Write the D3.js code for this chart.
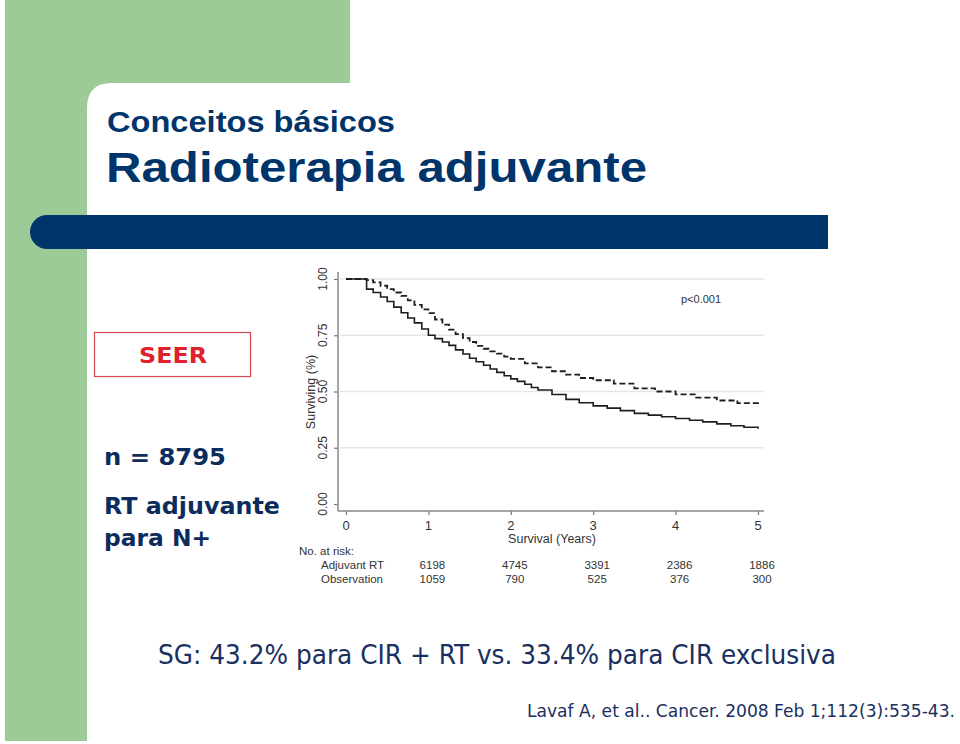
<!DOCTYPE html>
<html>
<head>
<meta charset="utf-8">
<script src="https://cdn.jsdelivr.net/npm/d3@7/dist/d3.min.js"></script>
<style>
  html, body { margin: 0; padding: 0; background: #ffffff; }
  svg { display: block; }
</style>
</head>
<body>
<div id="chart"></div>
<script>
// ---------- data ----------
const timesRT  = [0, 0.25, 0.33, 0.42, 0.5, 0.58, 0.67, 0.75, 0.83, 0.92, 1.0, 1.08, 1.17, 1.25, 1.33, 1.42, 1.5, 1.58, 1.67, 1.75, 1.83, 1.92, 2.0, 2.17, 2.33, 2.5, 2.67, 2.83, 3.0, 3.25, 3.5, 3.75, 4.0, 4.25, 4.5, 4.75, 5.0];
const survRT   = [1, 0.995, 0.985, 0.97, 0.955, 0.94, 0.925, 0.905, 0.885, 0.865, 0.848, 0.82, 0.797, 0.775, 0.755, 0.737, 0.72, 0.703, 0.69, 0.678, 0.668, 0.655, 0.645, 0.625, 0.607, 0.59, 0.575, 0.56, 0.55, 0.535, 0.514, 0.5, 0.487, 0.473, 0.46, 0.448, 0.435];
const timesObs = [0, 0.25, 0.33, 0.42, 0.5, 0.58, 0.67, 0.75, 0.83, 0.92, 1.0, 1.08, 1.17, 1.25, 1.33, 1.42, 1.5, 1.58, 1.67, 1.75, 1.83, 1.92, 2.0, 2.08, 2.17, 2.25, 2.33, 2.5, 2.67, 2.83, 3.0, 3.17, 3.33, 3.5, 3.67, 3.83, 4.0, 4.17, 4.33, 4.5, 4.67, 4.83, 5.0];
const survObs  = [1, 0.955, 0.94, 0.92, 0.9, 0.875, 0.85, 0.827, 0.805, 0.778, 0.75, 0.735, 0.72, 0.705, 0.685, 0.667, 0.648, 0.632, 0.617, 0.6, 0.585, 0.57, 0.556, 0.545, 0.532, 0.518, 0.507, 0.487, 0.465, 0.45, 0.436, 0.426, 0.415, 0.403, 0.395, 0.388, 0.38, 0.372, 0.365, 0.356, 0.348, 0.341, 0.335];
const xTicks = [0, 1, 2, 3, 4, 5];
const yTicks = [0, 0.25, 0.5, 0.75, 1.0];
const yTickLabels = ["0.00", "0.25", "0.50", "0.75", "1.00"];
const riskGroups = ["Adjuvant RT", "Observation"];
const riskTimes = [1, 2, 3, 4, 5];
const riskRT  = [6198, 4745, 3391, 2386, 1886];
const riskObs = [1059, 790, 525, 376, 300];

// ---------- canvas ----------
const W = 960, H = 744;
const svg = d3.select("#chart").append("svg").attr("width", W).attr("height", H);
const green = "#9ccb98", navy = "#00356b", textNavy = "#0c2c5c";

// background decoration
svg.append("rect").attr("x", 5).attr("y", 0).attr("width", 345).attr("height", 110).attr("fill", green);
svg.append("rect").attr("x", 5).attr("y", 0).attr("width", 82).attr("height", H - 3).attr("fill", green);
svg.append("path").attr("d", "M87,113 L87,108 Q87,83 112,83 L350,83 L350,113 Z").attr("fill", "#fff");

// title
svg.append("text").attr("x", 107).attr("y", 132).attr("font-family", "Liberation Sans, Arial, sans-serif")
  .attr("font-weight", "bold").attr("font-size", 29).attr("fill", navy)
  .attr("textLength", 288).attr("lengthAdjust", "spacingAndGlyphs").text("Conceitos básicos");
svg.append("text").attr("x", 106).attr("y", 182).attr("font-family", "Liberation Sans, Arial, sans-serif")
  .attr("font-weight", "bold").attr("font-size", 43).attr("fill", navy)
  .attr("textLength", 541).attr("lengthAdjust", "spacingAndGlyphs").text("Radioterapia adjuvante");

// blue bar
svg.append("path").attr("d", "M47,215 L828,215 L828,249 L47,249 A17,17 0 0 1 47,215 Z").attr("fill", navy);

// left side text
svg.append("rect").attr("x", 94.5).attr("y", 332.5).attr("width", 156).attr("height", 44)
  .attr("fill", "#fff").attr("stroke", "#d4474b").attr("stroke-width", 1.2);
svg.append("text").attr("x", 139).attr("y", 363)
  .attr("font-family", "DejaVu Sans, sans-serif").attr("font-weight", "bold").attr("font-size", 22)
  .attr("fill", "#e0202a").attr("textLength", 68).attr("lengthAdjust", "spacingAndGlyphs").text("SEER");
const side = [["n = 8795", 465, 122], ["RT adjuvante", 514, 176], ["para N+", 546, 107]];
side.forEach(([t, y, w]) => svg.append("text").attr("x", 104).attr("y", y)
  .attr("font-family", "DejaVu Sans, sans-serif").attr("font-weight", "bold").attr("font-size", 23)
  .attr("fill", textNavy).attr("textLength", w).attr("lengthAdjust", "spacingAndGlyphs").text(t));

// ---------- chart ----------
const x = d3.scaleLinear().domain([0, 5]).range([346, 758]);
const y = d3.scaleLinear().domain([0, 1]).range([504, 279]);
const chartFont = "Liberation Sans, Arial, sans-serif";
const gray = "#333";

// gridlines
svg.append("g").selectAll("line").data(yTicks.filter(d => d > 0)).join("line")
  .attr("x1", 340).attr("x2", 764).attr("y1", d => y(d)).attr("y2", d => y(d))
  .attr("stroke", "#e6e6e6").attr("stroke-width", 1.5);

// axes
const yAxis = svg.append("g").attr("transform", "translate(338,0)")
  .call(d3.axisLeft(y).tickValues(yTicks).tickSize(4).tickFormat(""));
const xAxis = svg.append("g").attr("transform", "translate(0,511)")
  .call(d3.axisBottom(x).tickValues(xTicks).tickSize(4).tickFormat(""));
[yAxis, xAxis].forEach(g => {
  g.select(".domain").remove();
  g.selectAll("line").attr("stroke", "#777").attr("stroke-width", 1.2);
});
svg.append("line").attr("x1", 338).attr("x2", 338).attr("y1", 272).attr("y2", 511).attr("stroke", "#888").attr("stroke-width", 1.5);
svg.append("line").attr("x1", 338).attr("x2", 764).attr("y1", 511).attr("y2", 511).attr("stroke", "#888").attr("stroke-width", 1.5);

// y tick labels rotated
svg.append("g").selectAll("text").data(yTicks).join("text")
  .attr("transform", d => `translate(327,${y(d)}) rotate(-90)`)
  .attr("text-anchor", "middle").attr("font-family", chartFont).attr("font-size", 12)
  .attr("fill", gray).text((d, i) => yTickLabels[i]);
svg.append("text").attr("transform", "translate(315,392) rotate(-90)")
  .attr("text-anchor", "middle").attr("font-family", chartFont).attr("font-size", 12.5)
  .attr("fill", gray).text("Surviving (%)");

// x tick labels
svg.append("g").selectAll("text").data(xTicks).join("text")
  .attr("x", d => x(d)).attr("y", 530).attr("text-anchor", "middle")
  .attr("font-family", chartFont).attr("font-size", 13).attr("fill", gray).text(d => d);
svg.append("text").attr("x", 552).attr("y", 543).attr("text-anchor", "middle")
  .attr("font-family", chartFont).attr("font-size", 12.5).attr("fill", gray).text("Survival (Years)");

svg.append("text").attr("x", 681).attr("y", 303).attr("font-family", chartFont).attr("font-size", 11)
  .attr("fill", gray).text("p<0.001");

// curves
const line = d3.line().x(d => x(d[0])).y(d => y(d[1])).curve(d3.curveStepAfter);
svg.append("path").datum(timesObs.map((t, i) => [t, survObs[i]]))
  .attr("d", line).attr("fill", "none").attr("stroke", "#1e1e1e").attr("stroke-width", 1.6);
svg.append("path").datum(timesRT.map((t, i) => [t, survRT[i]]))
  .attr("d", line).attr("fill", "none").attr("stroke", "#1e1e1e").attr("stroke-width", 1.8)
  .attr("stroke-dasharray", "6,3");

// at-risk table
svg.append("text").attr("x", 299).attr("y", 555).attr("font-family", chartFont).attr("font-size", 11.5)
  .attr("fill", gray).text("No. at risk:");
[[riskGroups[0], riskRT, 569], [riskGroups[1], riskObs, 583]].forEach(([name, vals, yy]) => {
  svg.append("text").attr("x", 321).attr("y", yy).attr("font-family", chartFont).attr("font-size", 11.5)
    .attr("fill", gray).text(name);
  svg.append("g").selectAll("text").data(vals).join("text")
    .attr("x", (d, i) => x(riskTimes[i]) + 4).attr("y", yy).attr("text-anchor", "middle")
    .attr("font-family", chartFont).attr("font-size", 11.5).attr("fill", gray).text(d => d);
});

// bottom text
svg.append("text").attr("x", 158).attr("y", 664).attr("font-family", "DejaVu Sans Condensed, DejaVu Sans, sans-serif")
  .attr("font-size", 27).attr("fill", "#1a3060").attr("textLength", 678).attr("lengthAdjust", "spacingAndGlyphs")
  .text("SG: 43.2% para CIR + RT vs. 33.4% para CIR exclusiva");
svg.append("text").attr("x", 527).attr("y", 717).attr("font-family", "DejaVu Sans Condensed, DejaVu Sans, sans-serif")
  .attr("font-size", 18).attr("fill", "#1a3060").attr("textLength", 428).attr("lengthAdjust", "spacingAndGlyphs")
  .text("Lavaf A, et  al.. Cancer. 2008 Feb 1;112(3):535-43.");
</script>
</body>
</html>
